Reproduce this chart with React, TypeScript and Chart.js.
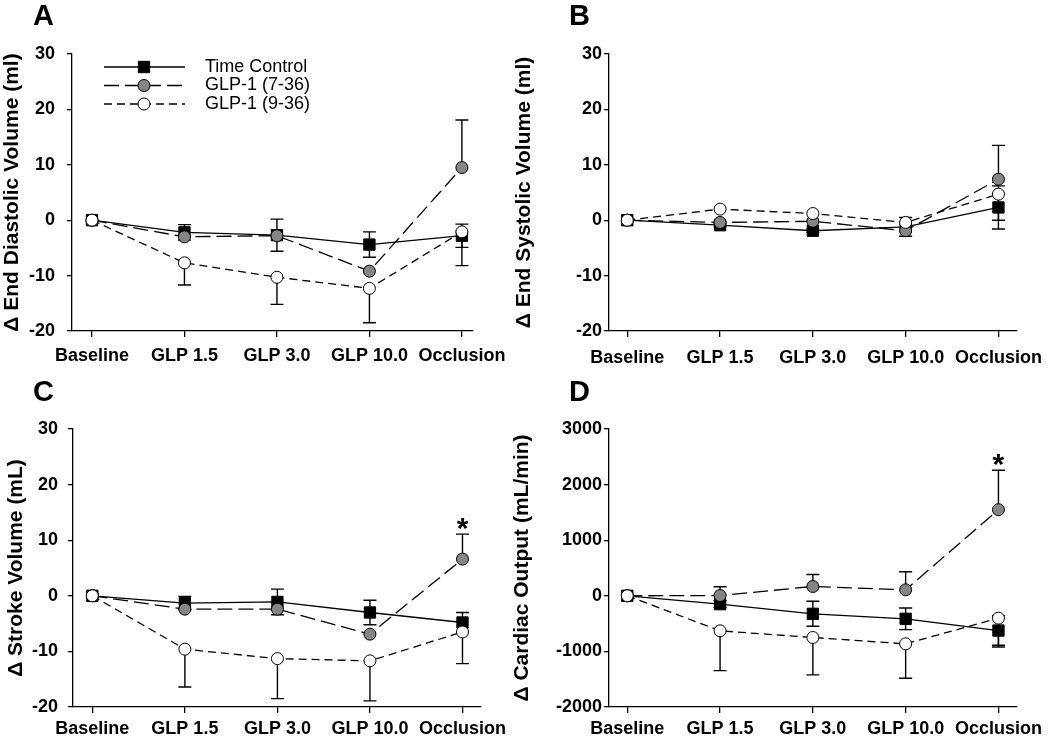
import React, { useEffect, useRef } from 'react';
import { Chart, registerables } from 'chart.js';

Chart.register(...registerables);

// ---------- DATA ----------
const categories = ['Baseline', 'GLP 1.5', 'GLP 3.0', 'GLP 10.0', 'Occlusion'];
const seriesNames = ['Time Control', 'GLP-1 (7-36)', 'GLP-1 (9-36)'];

// A: End diastolic volume (ml)
const edvTimeControl = [0, -2.2, -2.7, -4.4, -2.8];
const edvTimeControlSE = [0, 1.4, 2.9, 2.3, 2.1];
const edvGLP736 = [0, -3.0, -2.8, -9.2, 9.5];
const edvGLP736SE = [0, 0, 0, 0, 8.6];
const edvGLP936 = [0, -7.7, -10.3, -12.3, -2.1];
const edvGLP936SE = [0, 4.0, 4.9, 6.2, 6.1];

// B: End systolic volume (ml)
const esvTimeControl = [0, -0.9, -1.9, -1.2, 2.3];
const esvTimeControlSE = [0, 0.3, 0.3, 1.7, 3.9];
const esvGLP736 = [0, -0.4, -0.2, -1.9, 7.4];
const esvGLP736SE = [0, 0, 0, 0, 6.1];
const esvGLP936 = [0, 2.0, 1.2, -0.4, 4.7];
const esvGLP936SE = [0, 0, 0, 0, 4.7];

// C: Stroke volume (mL)
const svTimeControl = [0, -1.3, -1.1, -3.0, -4.8];
const svTimeControlSE = [0, 1.2, 2.3, 2.2, 1.8];
const svGLP736 = [0, -2.4, -2.4, -6.9, 6.6];
const svGLP736SE = [0, 0, 0, 0, 4.5];
const svGLP936 = [0, -9.6, -11.3, -11.7, -6.5];
const svGLP936SE = [0, 6.8, 7.2, 7.2, 5.7];
const svSignificance = ['', '', '', '', '*'];

// D: Cardiac output (mL/min)
const coTimeControl = [0, -150, -324, -414, -625];
const coTimeControlSE = [0, 60, 225, 195, 265];
const coGLP736 = [0, 5, 168, 108, 1549];
const coGLP736SE = [0, 157, 216, 324, 708];
const coGLP936 = [0, -630, -750, -864, -402];
const coGLP936SE = [0, 715, 673, 619, 520];
const coSignificance = ['', '', '', '', '*'];

// ---------- STYLES ----------
const FONT = '"Liberation Sans", Arial, Helvetica, sans-serif';
const PAGE_W = 1050;
const PAGE_H = 742;

const seriesStyles = [
  { fill: '#000000', dash: [] as number[], pointStyle: 'rect', radius: 8, errDir: 'both' },
  { fill: '#858585', dash: [15, 6], pointStyle: 'circle', radius: 6, errDir: 'up' },
  { fill: '#ffffff', dash: [8, 5], pointStyle: 'circle', radius: 6, errDir: 'down' },
];

type Panel = {
  letter: string;
  yTitle: string;
  yMin: number;
  yMax: number;
  yStep: number;
  series: number[][];
  se: number[][];
  sig: string[] | null;
  legend: boolean;
  area: { left: number; right: number; top: number; bottom: number };
  xMin: number;
  xMax: number;
  titleX: number;
  yTickPad: number;
  xTickPad: number;
  letterPos: { x: number; y: number };
};

const panels: Panel[] = [
  {
    letter: 'A', yTitle: '\u0394 End Diastolic Volume (ml)', yMin: -20, yMax: 30, yStep: 10,
    series: [edvTimeControl, edvGLP736, edvGLP936], se: [edvTimeControlSE, edvGLP736SE, edvGLP936SE],
    sig: null, legend: true,
    area: { left: 72, right: 473, top: 54, bottom: 331 },
    xMin: -0.216, xMax: 4.12, titleX: 12.5, yTickPad: 12, xTickPad: 8, letterPos: { x: 33, y: 25 },
  },
  {
    letter: 'B', yTitle: '\u0394 End Systolic Volume (ml)', yMin: -20, yMax: 30, yStep: 10,
    series: [esvTimeControl, esvGLP736, esvGLP936], se: [esvTimeControlSE, esvGLP736SE, esvGLP936SE],
    sig: null, legend: false,
    area: { left: 609, right: 1017, top: 54, bottom: 331 },
    xMin: -0.197, xMax: 4.2, titleX: 524, yTickPad: 2, xTickPad: 10, letterPos: { x: 569, y: 25 },
  },
  {
    letter: 'C', yTitle: '\u0394 Stroke Volume (mL)', yMin: -20, yMax: 30, yStep: 10,
    series: [svTimeControl, svGLP736, svGLP936], se: [svTimeControlSE, svGLP736SE, svGLP936SE],
    sig: svSignificance, legend: false,
    area: { left: 73, right: 481, top: 429, bottom: 707 },
    xMin: -0.209, xMax: 4.2, titleX: 16, yTickPad: 10, xTickPad: 5, letterPos: { x: 33, y: 401 },
  },
  {
    letter: 'D', yTitle: '\u0394 Cardiac Output (mL/min)', yMin: -2000, yMax: 3000, yStep: 1000,
    series: [coTimeControl, coGLP736, coGLP936], se: [coTimeControlSE, coGLP736SE, coGLP936SE],
    sig: coSignificance, legend: false,
    area: { left: 609, right: 1017, top: 429, bottom: 707 },
    xMin: -0.197, xMax: 4.2, titleX: 522, yTickPad: 2, xTickPad: 5, letterPos: { x: 569, y: 401 },
  },
];

const legendLayout = { x0: 104, x1: 185, marker: 144, text: 205, rows: [67, 85.5, 104] };

function drawMarker(ctx: CanvasRenderingContext2D, st: any, x: number, y: number) {
  ctx.save();
  ctx.setLineDash([]);
  ctx.fillStyle = st.fill;
  ctx.strokeStyle = '#000';
  ctx.lineWidth = 1;
  ctx.beginPath();
  if (st.pointStyle === 'rect') {
    const s = Math.SQRT1_2 * st.radius;
    ctx.rect(x - s, y - s, 2 * s, 2 * s);
  } else {
    ctx.arc(x, y, st.radius, 0, Math.PI * 2);
  }
  ctx.fill();
  ctx.stroke();
  ctx.restore();
}

function PanelChart({ p }: { p: Panel }) {
  const ref = useRef<HTMLCanvasElement>(null);
  useEffect(() => {
    const canvas = ref.current as HTMLCanvasElement;
    const { left, right, top, bottom } = p.area;
    const titleSize = 21;
    const padLeft = p.titleX - titleSize / 2;
    const yW = left - padLeft;
    const xH = 35;
    const padRight = PAGE_W - right;
    const padBottom = PAGE_H - bottom - xH;

    const decor = {
      id: 'decor' + p.letter,
      beforeDatasetsDraw(chart: any) {
        const ctx: CanvasRenderingContext2D = chart.ctx;
        const xs = chart.scales.x;
        const ys = chart.scales.y;
        ctx.save();
        ctx.strokeStyle = '#000';
        ctx.lineWidth = 1.4;
        ctx.setLineDash([]);
        p.series.forEach((vals, i) => {
          const dir = seriesStyles[i].errDir;
          vals.forEach((v, j) => {
            const e = p.se[i][j];
            if (!e) return;
            const px = xs.getPixelForValue(j);
            const ends: number[] = [];
            if (dir !== 'down') ends.push(v + e);
            if (dir !== 'up') ends.push(v - e);
            ends.forEach((end) => {
              const py0 = ys.getPixelForValue(v);
              const py1 = ys.getPixelForValue(end);
              ctx.beginPath();
              ctx.moveTo(px, py0);
              ctx.lineTo(px, py1);
              ctx.moveTo(px - 6.5, py1);
              ctx.lineTo(px + 6.5, py1);
              ctx.stroke();
            });
          });
        });
        ctx.restore();
      },
      afterDatasetsDraw(chart: any) {
        const ctx: CanvasRenderingContext2D = chart.ctx;
        const xs = chart.scales.x;
        const ys = chart.scales.y;
        if (p.sig) {
          ctx.save();
          ctx.fillStyle = '#000';
          ctx.font = `bold 30px ${FONT}`;
          ctx.textAlign = 'center';
          ctx.textBaseline = 'alphabetic';
          p.sig.forEach((s, j) => {
            if (!s) return;
            const v = p.series[1][j] + p.se[1][j];
            const capY = ys.getPixelForValue(v);
            const m = ctx.measureText(s);
            const asc = m.actualBoundingBoxAscent;
            const desc = m.actualBoundingBoxDescent;
            const centerY = capY - 10;
            ctx.fillText(s, xs.getPixelForValue(j), centerY + (asc - desc) / 2);
          });
          ctx.restore();
        }
        if (p.legend) {
          ctx.save();
          seriesNames.forEach((name, i) => {
            const st = seriesStyles[i];
            const y = legendLayout.rows[i];
            ctx.strokeStyle = '#000';
            ctx.lineWidth = 1.3;
            ctx.setLineDash(st.dash);
            ctx.beginPath();
            ctx.moveTo(legendLayout.x0, y);
            ctx.lineTo(legendLayout.x1, y);
            ctx.stroke();
            ctx.setLineDash([]);
            drawMarker(ctx, st, legendLayout.marker, y);
            ctx.fillStyle = '#000';
            ctx.font = `18px ${FONT}`;
            ctx.textAlign = 'left';
            ctx.textBaseline = 'middle';
            ctx.fillText(name, legendLayout.text, y);
          });
          ctx.restore();
        }
        ctx.save();
        ctx.fillStyle = '#000';
        ctx.font = `bold 29px ${FONT}`;
        ctx.textAlign = 'left';
        ctx.textBaseline = 'alphabetic';
        ctx.fillText(p.letter, p.letterPos.x, p.letterPos.y);
        ctx.restore();
      },
    };

    const datasets = p.series.map((vals, i) => {
      const st = seriesStyles[i];
      return {
        label: seriesNames[i],
        data: vals.map((v, j) => ({ x: j, y: v })),
        borderColor: '#000',
        borderWidth: 1.3,
        borderDash: st.dash,
        pointStyle: st.pointStyle,
        pointRadius: st.radius,
        pointHoverRadius: st.radius,
        pointBackgroundColor: st.fill,
        pointBorderColor: '#000',
        pointBorderWidth: 1,
        fill: false,
        tension: 0,
        order: 2 - i,
      };
    });

    const tickFont = { family: FONT, size: 18, weight: 'bold' };

    const chart = new Chart(canvas, {
      type: 'line',
      data: { datasets } as any,
      options: {
        animation: false,
        responsive: false,
        maintainAspectRatio: false,
        events: [],
        layout: {
          autoPadding: false,
          padding: { left: padLeft, right: padRight, top, bottom: padBottom },
        },
        plugins: {
          legend: { display: false },
          tooltip: { enabled: false },
          title: { display: false },
        },
        scales: {
          x: {
            type: 'linear',
            position: 'bottom',
            min: p.xMin,
            max: p.xMax,
            afterBuildTicks: (s: any) => {
              s.ticks = categories.map((_, i) => ({ value: i }));
            },
            afterFit: (s: any) => {
              s.height = xH;
              s.paddingLeft = 0;
              s.paddingRight = 0;
            },
            ticks: {
              autoSkip: false,
              maxRotation: 0,
              minRotation: 0,
              padding: p.xTickPad,
              color: '#000',
              font: tickFont,
              callback: (v: any) => categories[Math.round(Number(v))] ?? '',
            },
            grid: { display: true, drawOnChartArea: false, drawTicks: true, tickLength: 6, color: '#000', lineWidth: 1.3 },
            border: { display: true, color: '#000', width: 1.3 },
          },
          y: {
            type: 'linear',
            position: 'left',
            min: p.yMin,
            max: p.yMax,
            afterBuildTicks: (s: any) => {
              const t: any[] = [];
              for (let v = p.yMin; v <= p.yMax + 1e-9; v += p.yStep) t.push({ value: v });
              s.ticks = t;
            },
            afterFit: (s: any) => {
              s.width = yW;
              s.paddingTop = 0;
              s.paddingBottom = 0;
            },
            ticks: {
              padding: p.yTickPad,
              color: '#000',
              font: tickFont,
              callback: (v: any) => String(v),
            },
            grid: { display: true, drawOnChartArea: false, drawTicks: true, tickLength: 5, color: '#000', lineWidth: 1.3 },
            border: { display: true, color: '#000', width: 1.3 },
            title: {
              display: true,
              text: p.yTitle,
              color: '#000',
              padding: 0,
              font: { family: FONT, size: titleSize, weight: 'bold', lineHeight: 1 },
            },
          },
        },
      } as any,
      plugins: [decor],
    });
    return () => chart.destroy();
  }, [p]);
  return (
    <canvas
      ref={ref}
      width={PAGE_W}
      height={PAGE_H}
      style={{ position: 'absolute', left: 0, top: 0, display: 'block' }}
    />
  );
}

export default function App() {
  return (
    <div style={{ position: 'absolute', left: 0, top: 0, width: PAGE_W, height: PAGE_H, background: '#fff' }}>
      {panels.map((p) => (
        <PanelChart key={p.letter} p={p} />
      ))}
    </div>
  );
}
